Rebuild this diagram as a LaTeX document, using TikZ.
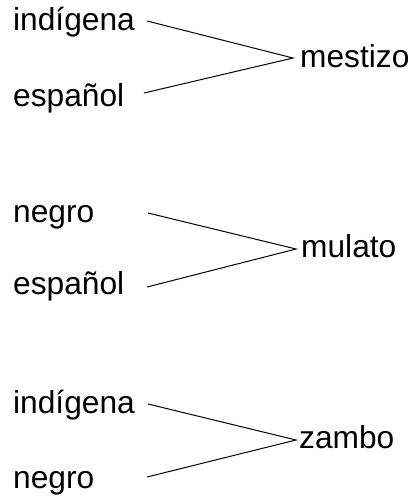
\documentclass[tikz,border=0pt]{standalone}
\usepackage{fontspec}
\setmainfont{Liberation Sans}
\begin{document}
\begin{tikzpicture}[x=1pt,y=-1pt,
  lbl/.style={anchor=base west,inner sep=0pt,font=\fontsize{31.7}{36}\selectfont},
  conn/.style={draw=black,line width=1pt}]
\useasboundingbox (0,0) rectangle (410,498);
% group 1
\node[lbl] (a1) at (13,30) {indígena};
\node[lbl] (b1) at (13,106) {español};
\node[lbl] (c1) at (300,67) {mestizo};
\coordinate (a1e) at (147,21);
\coordinate (b1e) at (144,93);
\coordinate (t1) at (293,58);
\draw[conn] (a1e) -- (t1) -- (b1e);
% group 2
\node[lbl] (a2) at (13,222) {negro};
\node[lbl] (b2) at (13,294) {español};
\node[lbl] (c2) at (301,257) {mulato};
\coordinate (a2e) at (148,213);
\coordinate (b2e) at (147,287);
\coordinate (t2) at (296,249);
\draw[conn] (a2e) -- (t2) -- (b2e);
% group 3
\node[lbl] (a3) at (13,413) {indígena};
\node[lbl] (b3) at (13,488) {negro};
\node[lbl] (c3) at (299,448) {zambo};
\coordinate (a3e) at (148,404);
\coordinate (b3e) at (147,477);
\coordinate (t3) at (296,440);
\draw[conn] (a3e) -- (t3) -- (b3e);
\end{tikzpicture}
\end{document}
